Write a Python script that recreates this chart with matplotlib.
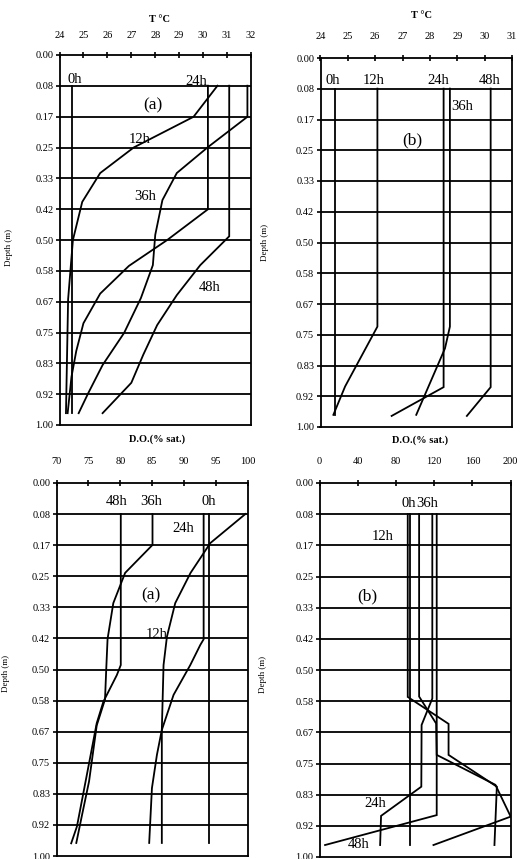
import matplotlib
matplotlib.use('Agg')
import matplotlib.pyplot as plt

plt.rcParams['font.family'] = ['Liberation Serif', 'DejaVu Serif']

# Depth grid (m), drawn at twelfths of a metre
depth_ticks = [k / 12 for k in range(13)]
depth_labels = ['0.00', '0.08', '0.17', '0.25', '0.33', '0.42', '0.50',
                '0.58', '0.67', '0.75', '0.83', '0.92', '1.00']

# Panel (a), temperature (deg C)
ta_0h_d = [0.083, 0.968]
ta_0h = [24.52, 24.52]
ta_12h_d = [0.083, 0.167, 0.25, 0.319, 0.397, 0.5, 0.66, 0.968]
ta_12h = [30.6, 29.6, 27.1, 25.7, 24.95, 24.56, 24.36, 24.27]
ta_24h_d = [0.083, 0.417, 0.50, 0.57, 0.645, 0.725, 0.80, 0.87, 0.968]
ta_24h = [30.2, 30.2, 28.5, 26.9, 25.7, 25.0, 24.7, 24.5, 24.34]
ta_36h_d = [0.083, 0.167, 0.249, 0.319, 0.392, 0.486, 0.568, 0.657, 0.751, 0.838, 0.914, 0.968]
ta_36h = [31.85, 31.85, 30.2, 28.9, 28.3, 28.0, 27.9, 27.4, 26.7, 25.8, 25.2, 24.8]
ta_48h_d = [0.083, 0.49, 0.568, 0.649, 0.73, 0.81, 0.886, 0.968]
ta_48h = [31.09, 31.09, 29.88, 28.9, 28.08, 27.5, 27.0, 25.8]

# Panel (b), temperature (deg C)
tb_0h_d = [0.083, 0.967]
tb_0h = [24.53, 24.53]
tb_12h_d = [0.083, 0.728, 0.89, 0.967]
tb_12h = [26.08, 26.08, 24.9, 24.47]
tb_24h_d = [0.083, 0.892, 0.97]
tb_24h = [28.5, 28.5, 26.6]
tb_36h_d = [0.083, 0.728, 0.787, 0.967]
tb_36h = [28.73, 28.73, 28.55, 27.5]
tb_48h_d = [0.083, 0.892, 0.97]
tb_48h = [30.22, 30.22, 29.35]

# Panel (a), dissolved oxygen (% sat.)
oa_0h_d = [0.083, 0.965]
oa_0h = [93.94, 93.94]
oa_12h_d = [0.083, 0.161, 0.241, 0.322, 0.412, 0.488, 0.662, 0.965]
oa_12h = [99.6, 94.1, 91.0, 88.6, 87.3, 86.77, 86.5, 86.5]
oa_24h_d = [0.083, 0.419, 0.434, 0.488, 0.568, 0.662, 0.729, 0.818, 0.965]
oa_24h = [93.05, 93.05, 92.53, 90.96, 88.34, 86.5, 85.73, 84.95, 84.52]
oa_36h_d = [0.083, 0.166, 0.241, 0.322, 0.418, 0.496, 0.58, 0.65, 0.80, 0.89, 0.965]
oa_36h = [85.04, 85.04, 80.75, 78.9, 78.0, 77.8, 77.6, 76.3, 75.1, 74.0, 73.1]
oa_48h_d = [0.083, 0.488, 0.515, 0.586, 0.644, 0.832, 0.921, 0.966]
oa_48h = [80.07, 80.07, 79.45, 77.35, 76.3, 74.2, 73.2, 72.3]

# Panel (b), dissolved oxygen (% sat.)
ob_0h_d = [0.083, 0.968]
ob_0h = [95.0, 95.0]
ob_12h_d = [0.083, 0.572, 0.644, 0.727, 0.812, 0.968]
ob_12h = [92.3, 92.3, 135.0, 135.0, 185.5, 183.0]
ob_24h_d = [0.083, 0.576, 0.647, 0.812, 0.89, 0.968]
ob_24h = [118.0, 118.0, 106.8, 106.5, 64.4, 63.4]
ob_36h_d = [0.083, 0.571, 0.643, 0.727, 0.807, 0.892, 0.968]
ob_36h = [104.2, 104.2, 122.0, 122.6, 184.0, 200.0, 119.2]
ob_48h_d = [0.083, 0.888, 0.968]
ob_48h = [122.6, 122.6, 5.8]


def draw_panel(rect, xlim, xticks, title, title_xy, curves, notes, tick_pad, ylab_xy):
    ax = fig.add_axes(rect)
    for x, d in curves:
        ax.plot(x, d, color='k', lw=1.3, solid_joinstyle='miter')
    for d in depth_ticks[1:-1]:
        ax.axhline(d, color='k', lw=1.3)
    for txt, x, y, size in notes:
        ax.text(x, y, txt, fontsize=size, ha='center', va='center')
    ax.set_xlim(*xlim)
    ax.set_ylim(1, 0)
    ax.xaxis.tick_top()
    ax.set_xticks(xticks)
    ax.set_yticks(depth_ticks)
    ax.set_yticklabels(depth_labels)
    ax.tick_params(axis='x', direction='inout', length=5, width=1.2,
                   pad=tick_pad, labelsize=7.5)
    ax.tick_params(axis='y', direction='out', length=3, width=1.2,
                   pad=1.5, labelsize=7.5)
    for s in ax.spines.values():
        s.set_linewidth(1.3)
    ax.text(title_xy[0], title_xy[1], title, transform=ax.transAxes,
            fontsize=7.5, fontweight='bold', ha='center', va='center')
    ax.set_ylabel('Depth (m)', fontsize=6.5)
    ax.yaxis.set_label_coords(*ylab_xy)
    return ax


W, H = 529, 859
fig = plt.figure(figsize=(W / 100, H / 100), dpi=100)


def box(left, right, top, bottom):
    return [left / W, 1 - bottom / H, (right - left) / W, (bottom - top) / H]


draw_panel(box(59.5, 251, 55, 425), (24, 32), range(24, 33), 'T °C', (0.52, 1.097),
           [(ta_0h, ta_0h_d), (ta_12h, ta_12h_d), (ta_24h, ta_24h_d),
            (ta_36h, ta_36h_d), (ta_48h, ta_48h_d)],
           [('0h', 24.65, 0.065, 10.5), ('24h', 29.7, 0.072, 10.5),
            ('(a)', 27.92, 0.135, 12.5), ('12h', 27.33, 0.228, 10.5),
            ('36h', 27.58, 0.382, 10.5), ('48h', 30.26, 0.628, 10.5)],
           8, (-0.245, 0.48))

draw_panel(box(320.5, 512, 58, 427), (24, 31), range(24, 32), 'T °C', (0.53, 1.114),
           [(tb_0h, tb_0h_d), (tb_12h, tb_12h_d), (tb_24h, tb_24h_d),
            (tb_36h, tb_36h_d), (tb_48h, tb_48h_d)],
           [('0h', 24.44, 0.062, 10.5), ('12h', 25.96, 0.062, 10.5),
            ('24h', 28.31, 0.062, 10.5), ('48h', 30.17, 0.062, 10.5),
            ('36h', 29.19, 0.132, 10.5), ('(b)', 27.36, 0.222, 12.5)],
           10, (-0.27, 0.5))

draw_panel(box(56.5, 248, 483, 856), (70, 100), range(70, 101, 5), 'D.O.(% sat.)',
           (0.525, 1.118),
           [(oa_0h, oa_0h_d), (oa_12h, oa_12h_d), (oa_24h, oa_24h_d),
            (oa_36h, oa_36h_d), (oa_48h, oa_48h_d)],
           [('48h', 79.45, 0.05, 10.5), ('36h', 84.8, 0.05, 10.5),
            ('0h', 93.83, 0.05, 10.5), ('24h', 89.9, 0.121, 10.5),
            ('(a)', 84.8, 0.30, 12.5), ('12h', 85.73, 0.407, 10.5)],
           10, (-0.243, 0.49))

draw_panel(box(319.5, 510.7, 483, 857), (0, 200), range(0, 201, 40), 'D.O.(% sat.)',
           (0.526, 1.115),
           [(ob_0h, ob_0h_d), (ob_12h, ob_12h_d), (ob_24h, ob_24h_d),
            (ob_36h, ob_36h_d), (ob_48h, ob_48h_d)],
           [('0h', 93, 0.054, 10.5), ('36h', 113.1, 0.054, 10.5),
            ('12h', 66, 0.144, 10.5), ('(b)', 50.3, 0.302, 12.5),
            ('24h', 58.1, 0.856, 10.5), ('48h', 40.6, 0.967, 10.5)],
           10, (-0.272, 0.487))

fig.savefig('out.png', dpi=100)
